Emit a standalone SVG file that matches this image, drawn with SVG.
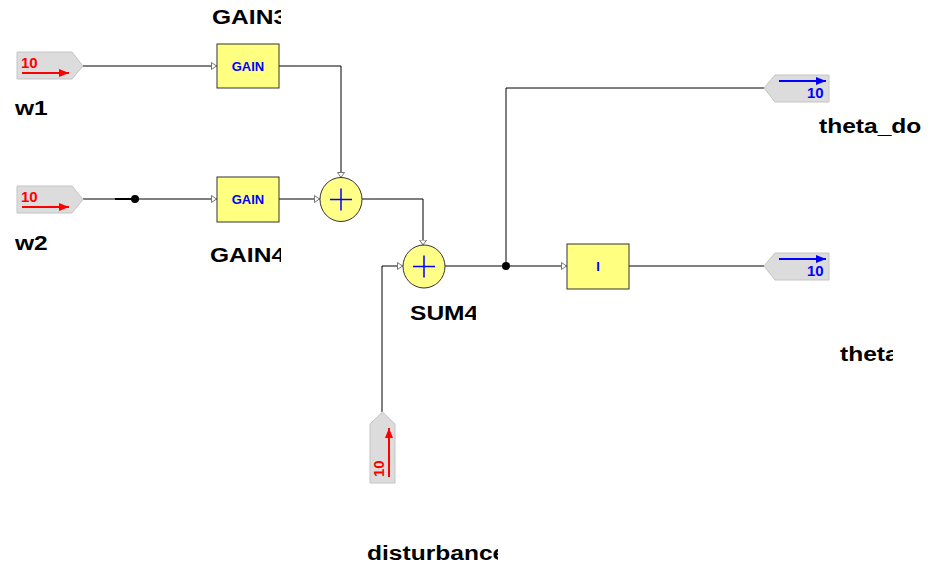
<svg xmlns="http://www.w3.org/2000/svg" width="936" height="568" viewBox="0 0 936 568">
<style>
.lbl{font-family:"Liberation Sans",Arial,sans-serif;font-weight:bold;font-size:21px;fill:#000}
.blk{fill:#ffff80;stroke:#333;stroke-width:1}
.sum{fill:#ffff88;stroke:#333;stroke-width:1}
.port{fill:#dcdcdc;stroke:#c4c4c4;stroke-width:1}
.btxt{font-family:"Liberation Sans",Arial,sans-serif;font-weight:bold;font-size:13px;fill:#0000ff;text-anchor:middle}
.rtxt{font-family:"Liberation Sans",Arial,sans-serif;font-weight:bold;font-size:15px;fill:#ff0000}
.otxt{font-family:"Liberation Sans",Arial,sans-serif;font-weight:bold;font-size:15px;fill:#0000ff}
.wire{fill:none;stroke:#000;stroke-width:1}
.plus{stroke:#0000ff;stroke-width:1.5}
</style>
<defs>
<marker id="inArr" viewBox="0 0 6 8" refX="6" refY="4" markerWidth="6" markerHeight="8" markerUnits="userSpaceOnUse" orient="auto">
<path d="M0.5,0.5 L5.5,4 L0.5,7.5 Z" fill="#fff" stroke="#777" stroke-width="1"/>
</marker>
<marker id="redArr" viewBox="0 0 10 8" refX="10" refY="4" markerWidth="10" markerHeight="8" markerUnits="userSpaceOnUse" orient="auto">
<path d="M0,0 L10,4 L0,8 Z" fill="#ff0000"/>
</marker>
<marker id="blueArr" viewBox="0 0 10 8" refX="10" refY="4" markerWidth="10" markerHeight="8" markerUnits="userSpaceOnUse" orient="auto">
<path d="M0,0 L10,4 L0,8 Z" fill="#0000ff"/>
</marker>
<clipPath id="cGain"><rect x="0" y="0" width="281" height="568"/></clipPath>
<clipPath id="cSum4"><rect x="0" y="0" width="476" height="568"/></clipPath>
<clipPath id="cDist"><rect x="0" y="0" width="498" height="568"/></clipPath>
<clipPath id="cThd"><rect x="0" y="0" width="923" height="568"/></clipPath>
<clipPath id="cTh"><rect x="0" y="0" width="893" height="568"/></clipPath>
</defs>

<g id="connectors">
<path class="wire" d="M83,66 H217" marker-end="url(#inArr)"/>
<path class="wire" d="M83,199 H217" marker-end="url(#inArr)"/>
<line x1="115" y1="199" x2="135" y2="199" stroke="#000" stroke-width="2"/>
<circle cx="135" cy="199" r="4" fill="#000"/>
<path class="wire" d="M279,66 H341 V178" marker-end="url(#inArr)"/>
<path class="wire" d="M279,199 H320" marker-end="url(#inArr)"/>
<path class="wire" d="M362,199 H423 V245.5" marker-end="url(#inArr)"/>
<path class="wire" d="M382,412 V266 H403" marker-end="url(#inArr)"/>
<path class="wire" d="M445,266 H567" marker-end="url(#inArr)"/>
<path class="wire" d="M506,266 V88 H764"/>
<circle cx="506" cy="266" r="4" fill="#000"/>
<path class="wire" d="M629,266 H764"/>
</g>

<g id="w1">
<path class="port" d="M17,52 H72 L83,66 L72,79 H17 Z"/>
<text class="rtxt" x="21" y="68">10</text>
<line x1="22" y1="73" x2="69" y2="73" stroke="#ff0000" stroke-width="2" marker-end="url(#redArr)"/>
<text class="lbl" transform="translate(15,115) scale(1.17,1)">w1</text>
</g>

<g id="w2">
<path class="port" d="M17,186 H72 L83,199.5 L72,213 H17 Z"/>
<text class="rtxt" x="21" y="202">10</text>
<line x1="22" y1="207" x2="69" y2="207" stroke="#ff0000" stroke-width="2" marker-end="url(#redArr)"/>
<text class="lbl" transform="translate(15,250) scale(1.17,1)">w2</text>
</g>

<g id="GAIN3">
<rect class="blk" x="217" y="44" width="62" height="44"/>
<text class="btxt" x="248" y="71">GAIN</text>
<g clip-path="url(#cGain)"><text class="lbl" transform="translate(212,24) scale(1.17,1)">GAIN3</text></g>
</g>

<g id="GAIN4">
<rect class="blk" x="217" y="177" width="62" height="45"/>
<text class="btxt" x="248" y="204">GAIN</text>
<g clip-path="url(#cGain)"><text class="lbl" transform="translate(210,262) scale(1.17,1)">GAIN4</text></g>
</g>

<g id="SUM3">
<ellipse class="sum" cx="341" cy="199.5" rx="21" ry="22"/>
<line class="plus" x1="330" y1="199.5" x2="352" y2="199.5"/>
<line class="plus" x1="341" y1="188.5" x2="341" y2="210.5"/>
</g>

<g id="SUM4">
<ellipse class="sum" cx="424" cy="266.5" rx="21" ry="21.5"/>
<line class="plus" x1="413" y1="266.5" x2="435" y2="266.5"/>
<line class="plus" x1="424" y1="255.5" x2="424" y2="277.5"/>
<g clip-path="url(#cSum4)"><text class="lbl" transform="translate(410,320) scale(1.17,1)">SUM4</text></g>
</g>

<g id="disturbance">
<path class="port" d="M370,424 L382.5,412 L395,424 V483 H370 Z"/>
<text class="rtxt" transform="translate(384,477) rotate(-90)">10</text>
<line x1="389" y1="477" x2="389" y2="428" stroke="#ff0000" stroke-width="2" marker-end="url(#redArr)"/>
<g clip-path="url(#cDist)"><text class="lbl" transform="translate(367,560) scale(1.17,1)">disturbance</text></g>
</g>

<g id="I">
<rect class="blk" x="567" y="244" width="62" height="45"/>
<text class="btxt" x="598" y="271">I</text>
</g>

<g id="theta_dot">
<path class="port" d="M764,88 L775,75 H829 V102 H775 Z"/>
<line x1="779" y1="81" x2="826" y2="81" stroke="#0000ff" stroke-width="2" marker-end="url(#blueArr)"/>
<text class="otxt" x="807" y="98">10</text>
<g clip-path="url(#cThd)"><text class="lbl" transform="translate(819,133) scale(1.17,1)">theta_do</text></g>
</g>

<g id="theta">
<path class="port" d="M764,266 L775,253 H829 V280 H775 Z"/>
<line x1="779" y1="259" x2="826" y2="259" stroke="#0000ff" stroke-width="2" marker-end="url(#blueArr)"/>
<text class="otxt" x="807" y="276">10</text>
<g clip-path="url(#cTh)"><text class="lbl" transform="translate(840,361) scale(1.17,1)">theta</text></g>
</g>
</svg>
